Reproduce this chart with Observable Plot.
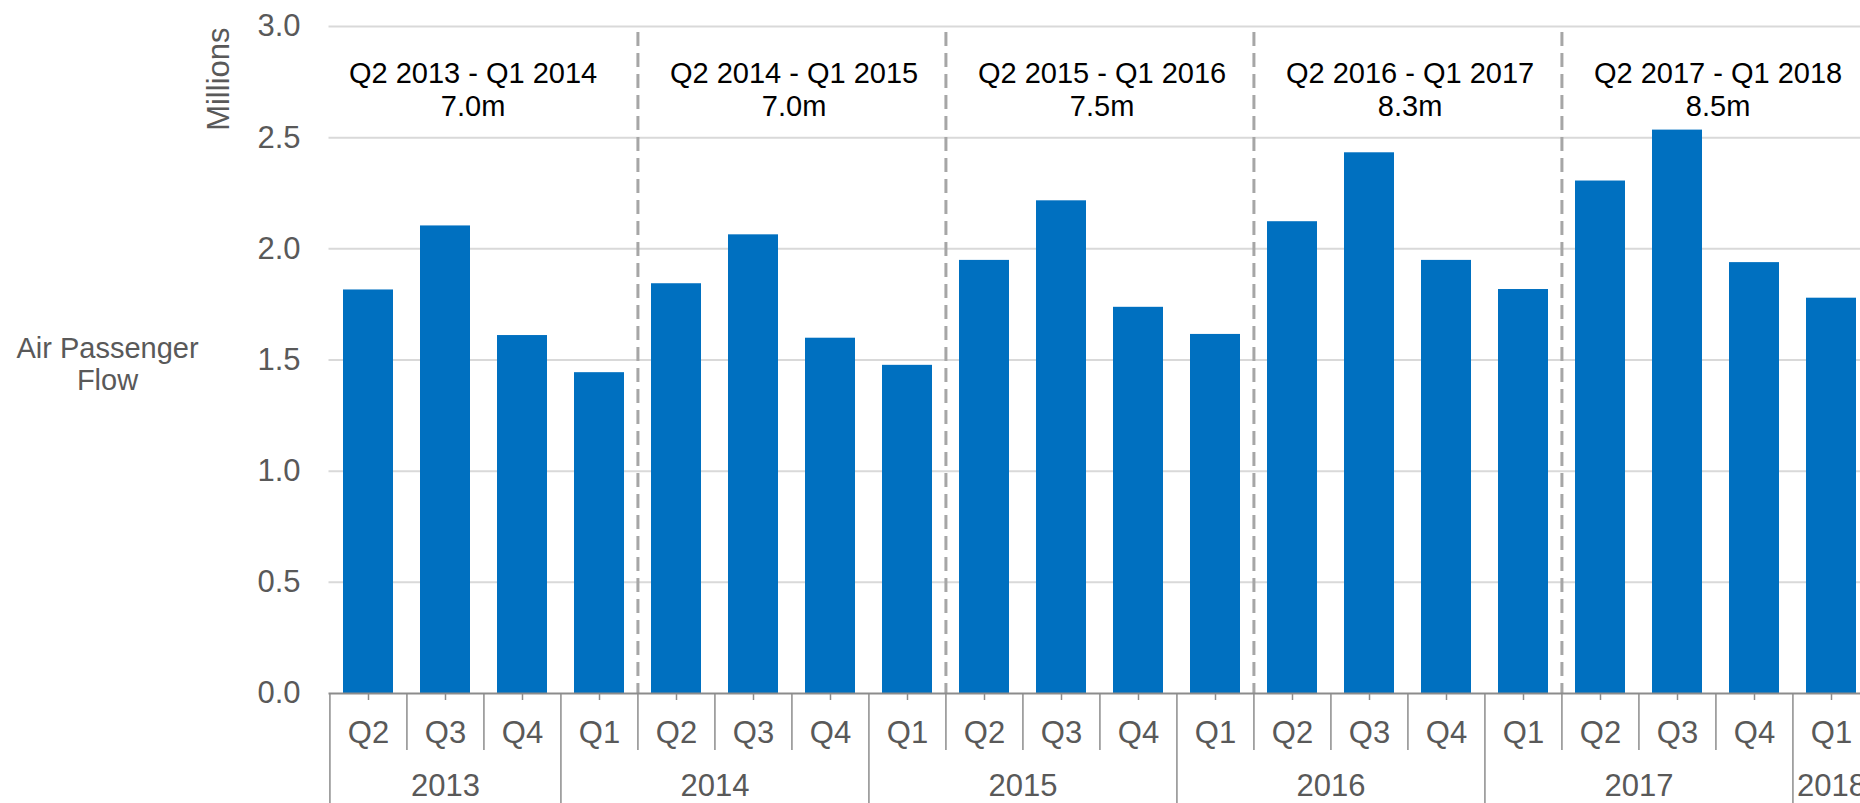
<!DOCTYPE html>
<html><head><meta charset="utf-8">
<script src="https://cdn.jsdelivr.net/npm/d3@7"></script>
<script src="https://cdn.jsdelivr.net/npm/@observablehq/plot@0.6"></script>
<style>html,body{margin:0;padding:0;background:#fff;overflow:hidden;}</style>
</head><body><div id="chart"></div>
<script>
// ---- data ----
const years    = [2013,2013,2013,2014,2014,2014,2014,2015,2015,2015,2015,2016,2016,2016,2016,2017,2017,2017,2017,2018];
const quarters = ["Q2","Q3","Q4","Q1","Q2","Q3","Q4","Q1","Q2","Q3","Q4","Q1","Q2","Q3","Q4","Q1","Q2","Q3","Q4","Q1"];
const passengers = [1.815,2.103,1.610,1.443,1.843,2.063,1.598,1.476,1.948,2.216,1.737,1.615,2.122,2.432,1.948,1.817,2.305,2.534,1.938,1.778];
const periodLabels = ["Q2 2013 - Q1 2014","Q2 2014 - Q1 2015","Q2 2015 - Q1 2016","Q2 2016 - Q1 2017","Q2 2017 - Q1 2018"];
const periodTotals = ["7.0m","7.0m","7.5m","8.3m","8.5m"];
const yTicks = [0,0.5,1.0,1.5,2.0,2.5,3.0];
const yUnit = "Millions";
const yTitle = "Air Passenger\nFlow";

// ---- derived ----
const categories = years.map((y,i)=>`${y} ${quarters[i]}`);
const data = categories.map((c,i)=>({cat:c, year:years[i], q:quarters[i], v:passengers[i]}));
const quarterOf = Object.fromEntries(categories.map((c,i)=>[c, quarters[i]]));
const periods = periodLabels.map((p,k)=>({anchor: categories[4*k+1], text: `${p}\n${periodTotals[k]}`}));
const dashCats = periods.slice(1).map((p,k)=>categories[4*(k+1)]);
const yearSepCats = categories.filter((c,i)=> i===0 || years[i]!==years[i-1]);
const quarterSepCats = categories.filter((c,i)=> i>0 && years[i]===years[i-1]);
const yearGroups = d3.groups(categories.map((c,i)=>({c, y:years[i]})), d=>d.y)
  .map(([y, arr])=>({year:String(y), n:arr.length, odd: arr.length%2===1,
     anchor: arr.length%2===1 ? arr[(arr.length-1)/2].c : arr[arr.length/2-1].c}));

const W = 1860, H = 803;
const left = 328.5, right = 1871.5;
const step = (right-left)/categories.length;
const font = "'Liberation Sans', Arial, Helvetica, sans-serif";
const gray = "#595959";
const lineGray = "#8c8c8c";
const fs = 29;     // annotation / title text
const fsAxis = 31; // axis tick labels

const chart = Plot.plot({
  width: W, height: H,
  marginLeft: left, marginRight: 0, marginTop: 26, marginBottom: 110,
  style: {fontFamily: font, fontSize: fs+"px", background: "#fff", overflow: "hidden"},
  x: {domain: categories, range: [left, right], paddingInner: 0.35, paddingOuter: 0.175},
  y: {domain: [0,3]},
  marks: [
    Plot.gridY(yTicks.filter(d=>d>0), {stroke:"#d9d9d9", strokeOpacity:1, strokeWidth:2}),
    Plot.axisY(yTicks, {tickSize:0, tickPadding:28.5, tickFormat: d3.format(".1f"), fontSize:fsAxis, color:gray, fill:gray, label:null}),
    Plot.barY(data, {x:"cat", y:"v", fill:"#0070c0"}),
    Plot.ruleX(dashCats, {x:d=>d, dx:-step/2, stroke:"#a6a6a6", strokeWidth:3, strokeDasharray:"14,7", insetTop:6}),
    Plot.ruleY([0], {stroke:lineGray, strokeWidth:2}),
    Plot.axisX(categories, {tickSize:7, tickPadding:20, tickFormat:c=>quarterOf[c], fontSize:fsAxis, color:gray, fill:gray, stroke:lineGray, strokeWidth:1.5, label:null}),
    Plot.axisX(quarterSepCats, {tickSize:57, tickFormat:()=>"", dx:-step/2, stroke:lineGray, strokeWidth:1.5, label:null}),
    Plot.axisX(yearSepCats, {tickSize:110, tickFormat:()=>"", dx:-step/2, stroke:lineGray, strokeWidth:1.5, label:null}),
    Plot.text(yearGroups.filter(d=>d.odd), {x:"anchor", text:"year", frameAnchor:"bottom", lineAnchor:"top", dy:80, fill:gray, fontSize:fsAxis}),
    Plot.text(yearGroups.filter(d=>!d.odd), {x:"anchor", text:"year", dx:step/2, frameAnchor:"bottom", lineAnchor:"top", dy:80, fill:gray, fontSize:fsAxis}),
    Plot.text(periods.slice(0,1), {x:"anchor", text:"text", dx:step/2-11, frameAnchor:"top", lineAnchor:"middle", dy:62.4, lineHeight:1.15, fill:"#000", fontSize:fs}),
    Plot.text(periods.slice(1), {x:"anchor", text:"text", dx:step/2+2, frameAnchor:"top", lineAnchor:"middle", dy:62.4, lineHeight:1.15, fill:"#000", fontSize:fs}),
    Plot.text([yUnit], {text:d=>d, frameAnchor:"top-left", rotate:-90, textAnchor:"end", dx:206-left, dy:1, fill:gray, fontSize:fsAxis}),
    Plot.text([yTitle], {text:d=>d, frameAnchor:"left", textAnchor:"middle", lineAnchor:"middle", lineHeight:1.1, dx:107-left, dy:3.5, fill:gray, fontSize:fs})
  ]
});
document.getElementById("chart").appendChild(chart);
</script>
</body></html>
